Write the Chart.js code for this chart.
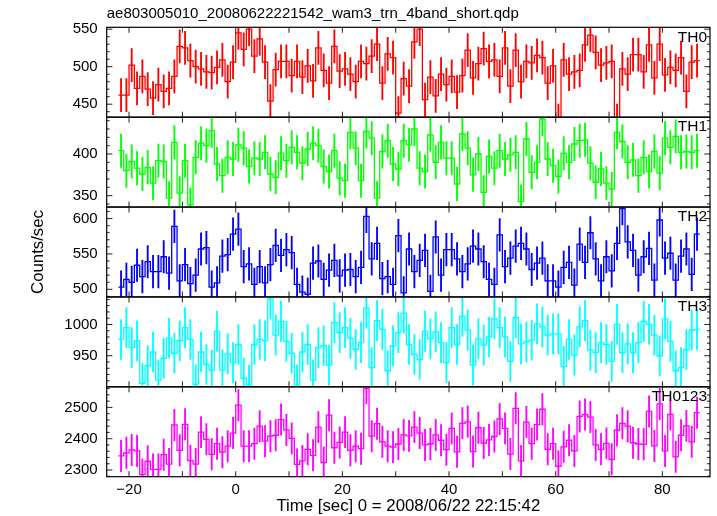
<!DOCTYPE html>
<html>
<head>
<meta charset="utf-8">
<script src="https://cdn.jsdelivr.net/npm/chart.js@4/dist/chart.umd.min.js"></script>
<style>
  body { margin: 0; background: #fff; }
  #wrap { width: 717px; height: 516px; }
</style>
</head>
<body>
<div id="wrap"><canvas id="chart" width="717" height="516"></canvas></div>
<script>
// light curve bins: 1 s wide, first bin starts at t = -22 s
var binStart = -22;
var binWidth = 1;

var bandNames = ["TH0", "TH1", "TH2", "TH3", "TH0123"];
var bandColors = ["#ff0000", "#00ff00", "#0000ff", "#00ffff", "#ff00ff"];
var bandErrors = [22, 20, 23, 32, 50];

var th0 = [462,462,502,471,487,470,458,476,467,471,
  487,527,525,508,500,497,493,492,499,509,
  480,506,545,523,550,514,537,506,454,496,
  507,507,488,507,486,501,481,525,495,478,
  527,494,497,490,480,507,504,514,530,478,
  517,512,438,484,474,533,550,456,486,461,
  490,476,487,466,488,522,485,504,524,507,
  509,487,525,474,522,480,507,505,515,512,
  478,501,428,509,490,493,495,529,542,519,
  502,505,507,428,497,490,516,516,493,529,
  485,530,489,499,495,512,467,506,508];

var th1 = [404,380,391,383,376,384,365,392,391,347,
  414,353,392,339,396,413,410,428,388,374,
  396,394,411,407,385,395,394,402,376,372,
  401,392,408,402,389,406,413,410,385,379,
  404,371,368,426,407,368,427,419,347,403,
  416,388,382,416,411,430,383,379,423,390,
  414,395,395,364,424,407,375,400,354,397,
  383,404,394,399,402,343,418,378,390,442,
  394,386,373,401,390,412,416,417,389,366,
  382,365,358,426,415,390,393,374,396,379,
  403,377,419,408,421,402,403,402,404];

var th2 = [503,514,510,534,518,539,525,525,546,523,
  589,512,535,508,520,557,559,503,509,547,
  549,578,585,532,536,507,532,509,535,562,
  548,556,552,507,496,493,537,540,514,527,
  541,519,527,528,518,531,603,543,565,515,
  518,507,576,495,557,525,541,555,497,574,
  520,556,556,543,525,536,561,557,539,514,
  507,577,532,544,561,565,557,528,537,544,
  512,512,503,531,538,506,564,538,580,543,
  512,546,526,565,614,567,555,520,546,558,
  513,598,544,551,513,547,557,521,578];

var th3 = [976,995,963,974,906,934,956,911,946,978,
  954,974,995,976,904,956,936,927,989,927,
  953,939,968,914,903,968,976,974,1041,983,
  1005,973,954,903,956,968,911,963,966,935,
  1003,987,995,978,960,971,1026,931,1006,992,
  926,966,987,1018,968,952,944,989,977,988,
  971,939,995,968,1013,991,935,977,967,980,
  1009,995,980,941,1011,969,972,975,1001,996,
  983,985,985,933,976,951,996,1006,959,955,
  971,968,941,1000,955,969,955,971,1005,1000,
  983,950,1009,973,926,931,960,991,992];

var th0123 = [2345,2355,2364,2361,2285,2328,2302,2302,2349,2319,
  2444,2363,2446,2330,2319,2421,2398,2350,2384,2357,
  2376,2418,2507,2376,2376,2384,2440,2392,2408,2411,
  2461,2428,2401,2318,2329,2366,2347,2437,2324,2475,
  2371,2388,2421,2363,2376,2368,2561,2408,2448,2390,
  2376,2373,2383,2412,2409,2437,2418,2380,2383,2412,
  2395,2365,2433,2358,2449,2454,2359,2435,2386,2396,
  2407,2463,2433,2351,2497,2329,2453,2384,2445,2494,
  2366,2384,2312,2374,2395,2361,2471,2477,2469,2380,
  2366,2385,2334,2427,2449,2440,2387,2383,2382,2487,
  2377,2511,2361,2478,2342,2411,2441,2390,2483];

var bands = [th0, th1, th2, th3, th0123];

// axis ranges and tick steps of each panel, top to bottom
var yMin = [432.7, 336.3, 489.2, 900.3, 2278.6];
var yMax = [552.5, 444.2, 616.3, 1044.0, 2565.7];
var yMajor = [50, 50, 50, 50, 100];
var yMinor = [10, 10, 10, 10, 20];

Chart.defaults.font.family = "'Liberation Sans', Arial, sans-serif";
Chart.defaults.color = '#000';

var datasets = [];
var scales = {
  x: {
    type: 'linear',
    min: -24.19,
    max: 88.93,
    offset: false,
    grid: { display: false, drawTicks: false },
    border: { display: false },
    ticks: {
      stepSize: 20,
      includeBounds: false,
      autoSkip: false,
      maxRotation: 0,
      padding: 4,
      font: { size: 15 },
      callback: function(v) { return v < 0 ? '\u2212' + Math.abs(v) : '' + v; }
    },
    title: {
      display: true,
      text: 'Time [sec] 0 = 2008/06/22 22:15:42',
      font: { size: 16.8 },
      padding: { top: 0, bottom: 0 }
    },
    afterFit: function(s) { s.height = 39.3; }
  }
};

bands.forEach(function(vals, k) {
  var id = 'y' + k;
  var steps = [];
  var bars = [];
  vals.forEach(function(v, i) {
    var t0 = binStart + i * binWidth;
    steps.push({ x: t0, y: v });
    bars.push({ x: t0 + binWidth / 2, y: [v - bandErrors[k], v + bandErrors[k]] });
  });
  steps.push({ x: binStart + vals.length * binWidth, y: vals[vals.length - 1] });

  datasets.push({
    type: 'line',
    label: bandNames[k],
    data: steps,
    yAxisID: id,
    stepped: true,
    borderColor: bandColors[k],
    borderWidth: 1.3,
    pointRadius: 0,
    fill: false,
    tension: 0
  });
  datasets.push({
    type: 'bar',
    label: bandNames[k] + ' err',
    data: bars,
    yAxisID: id,
    grouped: false,
    barThickness: 1.2,
    backgroundColor: bandColors[k],
    borderWidth: 0
  });

  scales[id] = {
    type: 'linear',
    position: 'left',
    stack: 'panels',
    stackWeight: 1,
    weight: 10 - k,
    min: yMin[k],
    max: yMax[k],
    grid: { display: false, drawTicks: false },
    border: { display: false },
    ticks: {
      stepSize: yMajor[k],
      includeBounds: false,
      autoSkip: false,
      padding: 9,
      font: { size: 15 },
      callback: function(v) { return '' + v; }
    },
    title: {
      display: k === 2,
      text: 'Counts/sec',
      font: { size: 16.8 },
      padding: { top: 28.5, bottom: 0 }
    },
    afterFit: function(s) { s.width = 106.7; }
  };
});

// frame, inward ticks, per-panel clipping and band names
var framePlugin = {
  id: 'qdpFrame',
  beforeDatasetDraw: function(chart, args) {
    var ys = args.meta.yScale, area = chart.chartArea, ctx = chart.ctx;
    ctx.save();
    ctx.beginPath();
    ctx.rect(area.left, ys.top, area.right - area.left, ys.bottom - ys.top);
    ctx.clip();
  },
  afterDatasetDraw: function(chart) {
    chart.ctx.restore();
  },
  afterDatasetsDraw: function(chart) {
    var ctx = chart.ctx, area = chart.chartArea, xs = chart.scales.x;
    ctx.save();
    for (var k = 0; k < bands.length; k++) {
      var ys = chart.scales['y' + k];
      ctx.strokeStyle = '#222';
      ctx.lineWidth = 1;
      ctx.beginPath();
      for (var j = Math.ceil(yMin[k] / yMinor[k]); j * yMinor[k] <= yMax[k]; j++) {
        var val = j * yMinor[k];
        var py = ys.getPixelForValue(val);
        var len = (val % yMajor[k] === 0) ? 5.7 : 3;
        ctx.moveTo(area.left, py); ctx.lineTo(area.left + len, py);
        ctx.moveTo(area.right, py); ctx.lineTo(area.right - len, py);
      }
      for (var t = Math.ceil(xs.min / 10) * 10; t <= xs.max; t += 10) {
        var px = xs.getPixelForValue(t);
        ctx.moveTo(px, ys.top); ctx.lineTo(px, ys.top + 5.5);
        ctx.moveTo(px, ys.bottom); ctx.lineTo(px, ys.bottom - 5.5);
      }
      ctx.stroke();

      ctx.strokeStyle = '#000';
      ctx.lineWidth = 1.2;
      ctx.strokeRect(area.left, ys.top, area.right - area.left, ys.bottom - ys.top);

      ctx.fillStyle = '#000';
      ctx.font = "15.5px 'Liberation Sans', Arial, sans-serif";
      ctx.textAlign = 'right';
      ctx.textBaseline = 'middle';
      ctx.fillText(bandNames[k], area.right - 3, ys.top + 10);
    }
    ctx.restore();
  }
};

var ctx = document.getElementById('chart').getContext('2d');
var myChart = new Chart(ctx, {
  type: 'line',
  data: { datasets: datasets },
  options: {
    responsive: false,
    animation: false,
    devicePixelRatio: 1,
    layout: { padding: { left: 0, right: 7, top: 0, bottom: 0 } },
    plugins: {
      legend: { display: false },
      tooltip: { enabled: false },
      title: {
        display: true,
        text: 'ae803005010_20080622221542_wam3_trn_4band_short.qdp',
        align: 'start',
        fullSize: false,
        font: { size: 15, weight: 'normal' },
        padding: { top: 5, bottom: 4.3 }
      }
    },
    scales: scales
  },
  plugins: [framePlugin]
});
</script>
</body>
</html>
